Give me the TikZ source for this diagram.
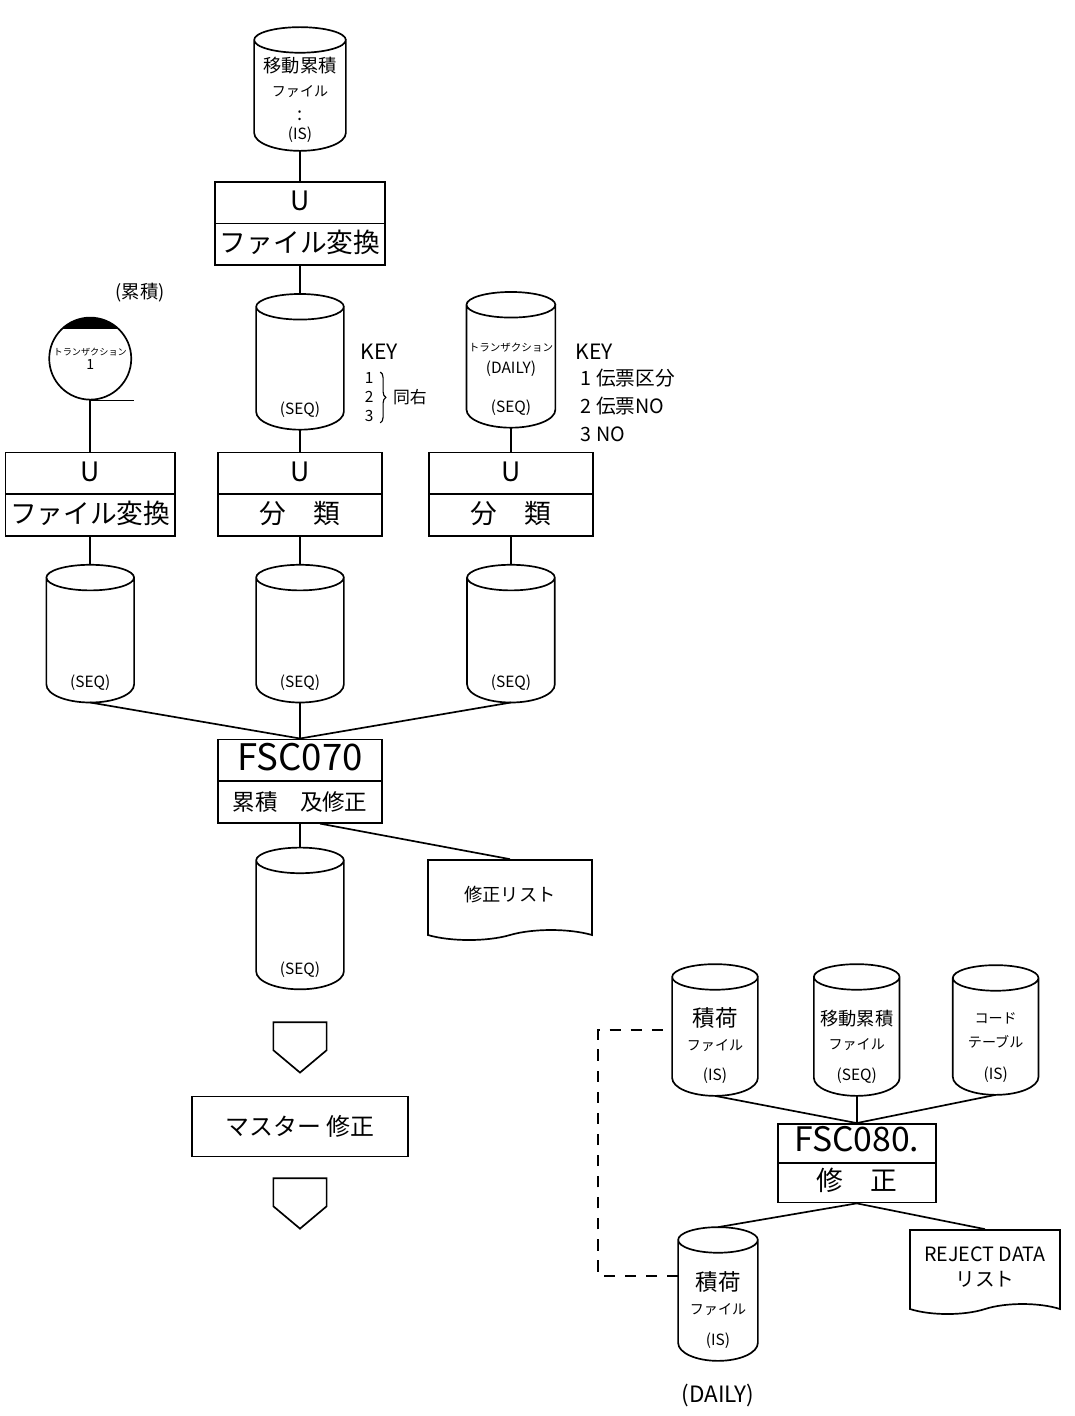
\documentclass[tikz,border=0pt]{standalone}
\usepackage{fontspec}
\setmainfont{Noto Sans CJK JP}
\usetikzlibrary{positioning,calc,shapes.geometric,shapes.multipart,shapes.symbols,decorations.pathreplacing}
\newcommand{\kanjisize}{\fontsize{13}{17}\selectfont}
\newcommand{\kanasize}{\fontsize{10}{15}\selectfont}
\newcommand{\boxstrut}{\rule[-0.29cm]{0pt}{1.0cm}}
\newcommand{\lowstrut}{\rule[-0.27cm]{0pt}{0.94cm}}

\begin{document}
\begin{tikzpicture}[
  x=0.025cm, y=-0.025cm,
  line width=1.2pt,
  disk/.style={minimum width=2.15cm, minimum height=3.35cm, inner sep=1pt, align=center, font=\kanjisize,
    append after command={\pgfextra{%
      \draw[line width=1.2pt] let \p1=(\tikzlastnode.north west), \p2=(\tikzlastnode.north east), \n1={(\x2-\x1)/2} in
        ([yshift=-0.32cm]\tikzlastnode.north) ellipse [x radius=\n1, y radius=0.32cm]
        ([yshift=-0.32cm]\tikzlastnode.north west) -- ([yshift=0.45cm]\tikzlastnode.south west)
        arc [start angle=180, end angle=360, x radius=\n1, y radius=0.45cm]
        -- ([yshift=-0.32cm]\tikzlastnode.north east);}}},
  fmt/.style={inner sep=1pt, font=\fontsize{11}{13}\selectfont},
  utilbox/.style={draw, rectangle split, rectangle split parts=2, minimum width=4.1cm, inner ysep=0pt, align=center, font=\fontsize{19}{22}\selectfont},
  report/.style={draw, tape, tape bend top=none, tape bend bottom=in and out, tape bend height=0.25cm, align=center, font=\fontsize{13}{17}\selectfont},
  offpage/.style={draw, signal, signal to=south, signal from=nowhere, signal pointer angle=100, minimum width=1.33cm, minimum height=0.8cm},
  tapefile/.style={draw, circle, minimum size=2.05cm, inner sep=0pt, align=center, font=\fontsize{6.5}{10}\selectfont,
    path picture={\fill (path picture bounding box.north west) rectangle ([yshift=-0.28cm]path picture bounding box.north east);}},
  keytxt/.style={inner sep=0pt, font=\fontsize{15}{18}\selectfont},
  conn/.style={line width=1.2pt},
]
\useasboundingbox (0,0) rectangle (1074,1416);

% Left flow
\node[disk, minimum width=2.25cm, minimum height=3.05cm] (movfile) at (300,89) {移動累積\\{\kanasize ファイル}\\:};
\node[fmt, above=0.15cm of movfile.south] (movfile-fmt) {(IS)};
\node[utilbox, below=0.75cm of movfile] (conv1) {\boxstrut U\nodepart{two}\boxstrut ファイル変換};
\node[disk, below=0.7cm of conv1] (seqfile) {};
\node[fmt, above=0.25cm of seqfile.south] (seqfile-fmt) {(SEQ)};
\node[utilbox, below=0.55cm of seqfile] (sort1) {\boxstrut U\nodepart{two}\boxstrut 分\quad 類};
\node[utilbox, left=1.03cm of sort1] (conv2) {\boxstrut U\nodepart{two}\boxstrut ファイル変換};
\node[utilbox, right=1.13cm of sort1] (sort2) {\boxstrut U\nodepart{two}\boxstrut 分\quad 類};
\node[tapefile, above=1.28cm of conv2] (trans1) {トランザクション\\{\fontsize{10}{12}\selectfont 1}};
\node[font=\fontsize{13}{16}\selectfont] (accum) at (140,293) {(累積)};
\node[disk, above=0.6cm of sort2, font=\fontsize{7.5}{16}\selectfont] (dailyfile) {トランザクション\\{\fontsize{11}{13}\selectfont (DAILY)}};
\node[fmt, above=0.25cm of dailyfile.south] (dailyfile-fmt) {(SEQ)};

% Keys
\node[keytxt, anchor=west] (key1) at (360,352) {KEY};
\node[inner sep=0pt, anchor=north west, align=left, font=\fontsize{11}{13.5}\selectfont] (key1n) at (364,372) {1\\2\\3};
\draw[decorate, decoration={brace, amplitude=4pt}, line width=0.8pt] ([xshift=0.15cm]key1n.north east) -- ([xshift=0.15cm]key1n.south east);
\node[inner sep=0pt, right=0.45cm of key1n, font=\fontsize{12}{14}\selectfont] (key1same) {同右};
\node[keytxt, anchor=west] (key2) at (575,352) {KEY};
\node[inner sep=0pt, anchor=north west, align=left, font=\fontsize{14}{20}\selectfont] (key2list) at (580,368) {1 伝票区分\\2 伝票NO\\3 NO};

% Sorted files
\node[disk, minimum height=3.4cm, below=0.7cm of conv2] (seqL) {};
\node[fmt, above=0.25cm of seqL.south] (seqL-fmt) {(SEQ)};
\node[disk, minimum height=3.4cm, below=0.7cm of sort1] (seqM) {};
\node[fmt, above=0.25cm of seqM.south] (seqM-fmt) {(SEQ)};
\node[disk, minimum height=3.4cm, below=0.7cm of sort2] (seqR) {};
\node[fmt, above=0.25cm of seqR.south] (seqR-fmt) {(SEQ)};

\node[utilbox, below=0.9cm of seqM] (fsc070) {\rule[-0.24cm]{0pt}{1.0cm}{\fontsize{26}{28}\selectfont FSC070}\nodepart{two}\boxstrut{\fontsize{16}{18}\selectfont 累積\quad 及修正}};
\node[disk, minimum height=3.5cm, below=0.6cm of fsc070] (seqout) {};
\node[fmt, above=0.25cm of seqout.south] (seqout-fmt) {(SEQ)};
\node[report, minimum width=4.1cm, minimum height=2cm] (corrlist) at (510,895) {修正リスト};

\node[offpage, below=0.8cm of seqout] (off1) {};
\node[draw, minimum width=5.4cm, minimum height=1.5cm, font=\fontsize{17}{20}\selectfont, below=0.55cm of off1] (master) {マスター 修正};
\node[offpage, below=0.5cm of master] (off2) {};

\draw[conn] (movfile) -- (conv1);
\draw[conn] (conv1) -- (seqfile);
\draw[conn] (seqfile) -- (sort1);
\draw[conn] (dailyfile) -- (sort2);
\draw[conn] (trans1) -- (conv2);
\draw[conn] (trans1.south) -- ([xshift=1.1cm]trans1.south);
\draw[conn] (conv2) -- (seqL);
\draw[conn] (sort1) -- (seqM);
\draw[conn] (sort2) -- (seqR);
\draw[conn] (seqL.south) -- (fsc070.north);
\draw[conn] (seqM.south) -- (fsc070.north);
\draw[conn] (seqR.south) -- (fsc070.north);
\draw[conn] (fsc070.south) -- (seqout.north);
\draw[conn] ([xshift=0.5cm]fsc070.south) -- (corrlist.north);

% Right flow
\node[disk, minimum width=2.1cm, minimum height=3.25cm] (stocka) at (715,1030) {{\fontsize{16}{20}\selectfont 積荷}\\{\kanasize ファイル}};
\node[fmt, above=0.25cm of stocka.south] (stocka-fmt) {(IS)};
\node[disk, minimum width=2.1cm, minimum height=3.25cm, right=1.4cm of stocka] (stockb) {移動累積\\{\kanasize ファイル}};
\node[fmt, above=0.25cm of stockb.south] (stockb-fmt) {(SEQ)};
\node[disk, minimum width=2.1cm, minimum height=3.2cm, right=1.33cm of stockb] (codetab) {{\kanasize コード}\\{\kanasize テーブル}};
\node[fmt, above=0.25cm of codetab.south] (codetab-fmt) {(IS)};

\node[utilbox, below=0.68cm of stockb, minimum width=3.95cm] (fsc080) {\lowstrut{\fontsize{24}{26}\selectfont FSC080.}\nodepart{two}\lowstrut 修\quad 正};
\node[disk, minimum width=1.95cm, minimum height=3.3cm] (stockd) at (718,1294) {{\fontsize{16}{20}\selectfont 積荷}\\{\kanasize ファイル}};
\node[fmt, above=0.25cm of stockd.south] (stockd-fmt) {(IS)};
\node[font=\fontsize{16}{18}\selectfont, below=0.45cm of stockd] (stockd-daily) {(DAILY)};
\node[report, minimum width=3.75cm, minimum height=2.1cm, font=\fontsize{14}{18}\selectfont] (reject) at (985,1267) {REJECT DATA\\リスト};

\draw[conn] (stocka.south) -- (fsc080.north);
\draw[conn] (stockb.south) -- (fsc080.north);
\draw[conn] (codetab.south) -- (fsc080.north);
\draw[conn] (fsc080.south) -- (stockd.north);
\draw[conn] (fsc080.south) -- (reject.north);
\draw[conn, dashed, dash pattern=on 8pt off 7pt] ([yshift=0.45cm]stockd.west) -- ++(-80,0) |- (stocka.west);
\end{tikzpicture}
\end{document}
